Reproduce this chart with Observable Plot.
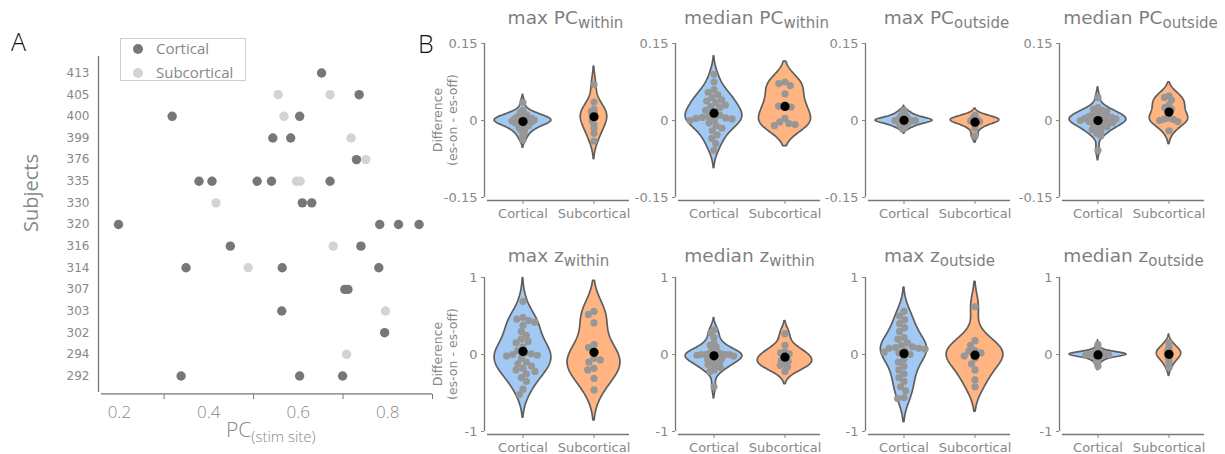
<!DOCTYPE html>
<html><head><meta charset="utf-8">
<script src="https://cdn.jsdelivr.net/npm/d3@7"></script>
<script src="https://cdn.jsdelivr.net/npm/@observablehq/plot@0.6"></script>
<style>
body{margin:0;background:#fff;}
#root{position:relative;width:1225px;height:454px;overflow:hidden;background:#fff;font-family:"DejaVu Sans",sans-serif;}
.abs{position:absolute;white-space:nowrap;}
.title{font-family:"DejaVu Sans";font-size:18.5px;color:#7f7f7f;line-height:20px;transform:translateX(-50%);}
.title sub{font-size:15px;vertical-align:-4px;line-height:0;}
.ylab{font-family:"DejaVu Sans";font-size:12.5px;color:#888;line-height:15px;text-align:center;transform:translate(-50%,-50%) rotate(-90deg);}
</style></head>
<body><div id="root"></div>
<script>
// ---------- Panel A data ----------
const subjects = ["413","405","400","399","376","335","330","320","316","314","307","303","302","294","292"];
const corticalPC = [[0.652],[0.736],[0.318,0.603],[0.543,0.583],[0.730],[0.378,0.407,0.508,0.540,0.671],[0.609,0.630],[0.198,0.782,0.824,0.870],[0.448,0.740],[0.349,0.564,0.780],[0.704,0.711],[0.563],[0.793],[],[0.338,0.603,0.699]];
const subcorticalPC = [[],[0.555,0.671],[0.568],[0.718],[0.751],[0.596,0.604],[0.416],[],[0.678],[0.488],[],[0.795],[],[0.708],[]];
const pcTickMarks = [0.3, 0.5, 0.7, 0.9];
const pcTickLabels = [0.2, 0.4, 0.6, 0.8];

// ---------- Panel B data ----------
const categories = ["Cortical", "Subcortical"];
const pcTicks = [-0.15, 0, 0.15];
const zTicks = [-1, 0, 1];
const maxPCwithinCort = [0.035,0.02,0.016,0.013,0.011,0.009,0.007,0.006,0.005,0.004,0.003,0.002,0.001,0.0,0.0,-0.001,-0.002,-0.003,-0.004,-0.005,-0.006,-0.008,-0.01,-0.012,-0.014,-0.017,-0.02,-0.024,-0.03,-0.038];
const maxPCwithinSub = [0.07,0.036,0.022,0.018,0.015,0.01,0.005,0.0,-0.008,-0.015,-0.025,-0.04];
const medPCwithinCort = [0.09,0.075,0.06,0.055,0.05,0.045,0.04,0.038,0.035,0.03,0.027,0.025,0.02,0.015,0.01,0.008,0.006,0.005,0.004,0.003,0.002,0.0,-0.005,-0.01,-0.015,-0.02,-0.028,-0.035,-0.045,-0.058];
const medPCwithinSub = [0.075,0.072,0.068,0.052,0.03,0.028,0.026,0.004,-0.003,-0.006,-0.008,-0.01];
const maxPCoutCort = [0.02,0.016,0.013,0.011,0.009,0.008,0.006,0.005,0.004,0.003,0.002,0.001,0.001,0.0,0.0,0.0,-0.001,-0.001,-0.002,-0.003,-0.004,-0.005,-0.006,-0.007,-0.008,-0.01,-0.012,-0.014,-0.017,0.0];
const maxPCoutSub = [0.01,0.006,0.004,0.002,0.001,0.0,-0.001,-0.002,-0.004,-0.01,-0.015,-0.03];
const medPCoutCort = [0.045,0.025,0.022,0.02,0.018,0.015,0.012,0.01,0.008,0.008,0.006,0.005,0.004,0.003,0.002,0.0,0.0,-0.001,-0.002,-0.004,-0.006,-0.008,-0.01,-0.012,-0.015,-0.018,-0.02,-0.025,-0.03,-0.058];
const medPCoutSub = [0.048,0.045,0.04,0.03,0.025,0.022,0.005,0.003,0.002,0.0,-0.002,-0.02];
const maxZwithinCort = [0.69,0.48,0.46,0.44,0.42,0.38,0.3,0.25,0.2,0.17,0.15,0.1,0.05,0.02,0.01,0.0,-0.01,-0.02,-0.05,-0.1,-0.12,-0.15,-0.18,-0.2,-0.22,-0.25,-0.3,-0.35,-0.45,-0.52];
const maxZwithinSub = [0.56,0.52,0.41,0.13,0.09,-0.05,-0.1,-0.07,-0.18,-0.2,-0.31,-0.46];
const medZwithinCort = [0.32,0.28,0.22,0.15,0.12,0.1,0.06,0.04,0.02,0.01,0.0,0.0,0.0,0.0,0.0,-0.01,-0.02,-0.03,-0.05,-0.05,-0.07,-0.08,-0.1,-0.12,-0.13,-0.15,-0.17,-0.2,-0.22,-0.42];
const medZwithinSub = [0.27,0.12,0.03,0.02,0.01,-0.05,-0.08,-0.09,-0.12,-0.14,-0.16,-0.22];
const maxZoutCort = [0.56,0.5,0.45,0.4,0.35,0.3,0.22,0.2,0.15,0.12,0.1,0.09,0.08,0.08,0.07,0.05,0.03,0.02,0.0,-0.06,-0.1,-0.15,-0.2,-0.25,-0.3,-0.35,-0.42,-0.47,-0.56,-0.57];
const maxZoutSub = [0.62,0.18,0.12,0.05,0.04,0.02,-0.02,-0.05,-0.12,-0.2,-0.33,-0.42];
const medZoutCort = [0.13,0.08,0.05,0.04,0.03,0.025,0.02,0.015,0.01,0.008,0.005,0.003,0.0,0.0,0.0,0.0,-0.003,-0.005,-0.008,-0.01,-0.015,-0.02,-0.025,-0.03,-0.04,-0.05,-0.06,-0.08,-0.1,-0.15];
const medZoutSub = [0.15,0.1,0.07,0.05,0.03,0.02,0.0,-0.02,-0.04,-0.07,-0.1,-0.17];

const root = document.getElementById("root");
function place(el, left, top) {
  el.style.position = "absolute"; el.style.left = left + "px"; el.style.top = top + "px";
  root.append(el); return el;
}
function html(cls, h, left, top, extra) {
  const d = document.createElement("div"); d.className = "abs " + cls; d.innerHTML = h;
  if (extra) Object.assign(d.style, extra);
  return place(d, left, top);
}

// ---------- Panel A ----------
const pointsA = [];
subjects.forEach((s, i) => {
  corticalPC[i].forEach(v => pointsA.push({subject: s, pc: v, type: "Cortical"}));
});
subjects.forEach((s, i) => {
  subcorticalPC[i].forEach(v => pointsA.push({subject: s, pc: v, type: "Subcortical"}));
});
const plotA = Plot.plot({
  width: 440, height: 394,
  marginLeft: 101, marginRight: 8, marginTop: 26, marginBottom: 32,
  style: {background: "transparent", overflow: "visible", fontFamily: "DejaVu Sans", fontSize: "12px", color: "#888"},
  x: {domain: [0.16, 0.9]},
  y: {type: "point", domain: subjects, padding: 0.765, round: false},
  color: {domain: categories, range: ["#777777", "#d3d3d3"]},
  marks: [
    Plot.ruleX([0.16], {dx: -3, stroke: "#777", strokeWidth: 1.3}),
    Plot.ruleY([subjects[subjects.length - 1]], {dy: 18, stroke: "#777", strokeWidth: 1.3}),
    Plot.axisY({tickSize: 0, tickPadding: 12, fontSize: 12, label: null}),
    Plot.axisX({ticks: pcTickMarks, tickSize: 5, dy: 2, tickFormat: () => "", stroke: "#777", label: null}),
    Plot.axisX({ticks: pcTickLabels, tickSize: 0, tickPadding: 13, tickFormat: d => d.toFixed(1), fontSize: 17, fontFamily: "Open Sans", fontWeight: 300, label: null}),
    Plot.dot(pointsA, {x: "pc", y: "subject", fill: "type", r: 4.7})
  ]
});
place(plotA, 0, 30);

html("", "A", 11, 24, {fontFamily: "Open Sans", fontWeight: 300, fontSize: "25px", color: "#111"});
html("", "B", 418, 26, {fontFamily: "Open Sans", fontWeight: 300, fontSize: "25px", color: "#111"});
html("", "Subjects", 30, 193, {fontFamily: "Open Sans", fontSize: "20px", color: "#888", transform: "translate(-50%,-50%) rotate(-90deg)"});
html("", 'PC<sub style="font-size:15px;vertical-align:-5px;line-height:0">(stim site)</sub>', 226, 415,
  {fontFamily: "Open Sans", fontWeight: 300, fontSize: "21px", color: "#888"});

// legend
const leg = html("", "", 120, 38, {width: "124px", height: "41px", border: "1px solid #cfcfcf", background: "#fff"});
[["Cortical", "#777777", 0], ["Subcortical", "#d3d3d3", 24]].forEach(([t, c, dy]) => {
  const dot = document.createElement("div");
  Object.assign(dot.style, {position: "absolute", left: "12px", top: (5 + dy) + "px", width: "10px", height: "10px", borderRadius: "50%", background: c});
  leg.append(dot);
  const tx = document.createElement("div");
  tx.textContent = t;
  Object.assign(tx.style, {position: "absolute", left: "35px", top: (-1 + dy) + "px", fontFamily: "Open Sans", fontSize: "15px", color: "#888", lineHeight: "20px"});
  leg.append(tx);
});

// ---------- Panel B ----------
function kde(vals) {
  const n = vals.length, sd = d3.deviation(vals), bw = sd * Math.pow(n, -0.2);
  const lo = d3.min(vals) - 2 * bw, hi = d3.max(vals) + 2 * bw;
  return d3.range(0, 121).map(i => {
    const y = lo + (hi - lo) * i / 120;
    return {y, d: d3.sum(vals, v => Math.exp(-0.5 * ((y - v) / bw) ** 2)) / (n * bw * Math.sqrt(2 * Math.PI))};
  });
}
function violinPanel(cort, subc, yMax, ticks, packR) {
  const groups = [cort, subc];
  const kdes = groups.map(kde);
  const maxD = d3.max(kdes, k => d3.max(k, p => p.d));
  const area = kdes.flatMap((k, i) => k.map(p => ({cat: categories[i], y: p.y, w: p.d / maxD * 0.4})));
  const pts = groups.flatMap((g, i) => g.map(v => ({cat: categories[i], v})));
  const means = groups.map((g, i) => ({cat: categories[i], m: d3.mean(g)}));
  return Plot.plot({
    width: 45 + 143 + 8, height: 10 + 157 + 30,
    marginLeft: 45, marginRight: 8, marginTop: 10, marginBottom: 30,
    style: {background: "transparent", overflow: "visible", fontFamily: "DejaVu Sans", fontSize: "13px", color: "#888"},
    x: {domain: [-0.5, 0.5], axis: null},
    y: {domain: [-yMax, yMax], insetBottom: 3},
    fx: {domain: categories, padding: 0, tickSize: 4, tickPadding: 4, label: null},
    color: {domain: categories, range: ["#a1c9f4", "#ffb482"]},
    marks: [
      Plot.areaX(area, {fx: "cat", y: "y", x1: d => -d.w, x2: d => d.w, fill: "cat", stroke: "#5e5e5e", strokeWidth: 1.7}),
      Plot.dot(pts, Plot.dodgeX({anchor: "middle", padding: 0, r: packR}, {fx: "cat", y: "v", r: 3.6, fill: "#979797"})),
      Plot.dot(means, {fx: "cat", x: 0, y: "m", r: 4.6, fill: "black"}),
      Plot.ruleY([-yMax], {dy: 3, stroke: "#777", strokeWidth: 1.3}),
      Plot.ruleX([{cat: "Cortical"}], {fx: "cat", x: () => -0.5, y1: -yMax, y2: yMax, dx: -3, stroke: "#777", strokeWidth: 1.3}),
      Plot.axisY({ticks, tickSize: 3, tickPadding: 4, dx: -3, tickFormat: d => String(d), label: null})
    ]
  });
}
const bPanels = [
  {row: 0, col: 0, stat: "max", base: "PC", sub: "within", cort: maxPCwithinCort, subc: maxPCwithinSub, packR: 1.7},
  {row: 0, col: 1, stat: "median", base: "PC", sub: "within", cort: medPCwithinCort, subc: medPCwithinSub, packR: 3.2},
  {row: 0, col: 2, stat: "max", base: "PC", sub: "outside", cort: maxPCoutCort, subc: maxPCoutSub, packR: 1.2},
  {row: 0, col: 3, stat: "median", base: "PC", sub: "outside", cort: medPCoutCort, subc: medPCoutSub, packR: 2.4},
  {row: 1, col: 0, stat: "max", base: "z", sub: "within", cort: maxZwithinCort, subc: maxZwithinSub, packR: 3.2},
  {row: 1, col: 1, stat: "median", base: "z", sub: "within", cort: medZwithinCort, subc: medZwithinSub, packR: 2.2},
  {row: 1, col: 2, stat: "max", base: "z", sub: "outside", cort: maxZoutCort, subc: maxZoutSub, packR: 3.2},
  {row: 1, col: 3, stat: "median", base: "z", sub: "outside", cort: medZoutCort, subc: medZoutSub, packR: 1.0}
];
const colLeft = [486, 677, 867, 1061];
const rowTop = [43, 277];
const titleTop = [8, 246];
const titleShift = [8, 1];
bPanels.forEach(p => {
  const yMax = p.row === 0 ? 0.15 : 1;
  const ticks = p.row === 0 ? pcTicks : zTicks;
  const svg = violinPanel(p.cort, p.subc, yMax, ticks, p.packR);
  place(svg, colLeft[p.col] - 45, rowTop[p.row] - 10);
  html("title", `${p.stat} ${p.base}<sub>${p.sub}</sub>`, colLeft[p.col] + 71.5 + titleShift[p.row], titleTop[p.row]);
});
[120, 354].forEach(cy => html("ylab", "Difference<br>(es-on - es-off)", 445, cy));
</script></body></html>
